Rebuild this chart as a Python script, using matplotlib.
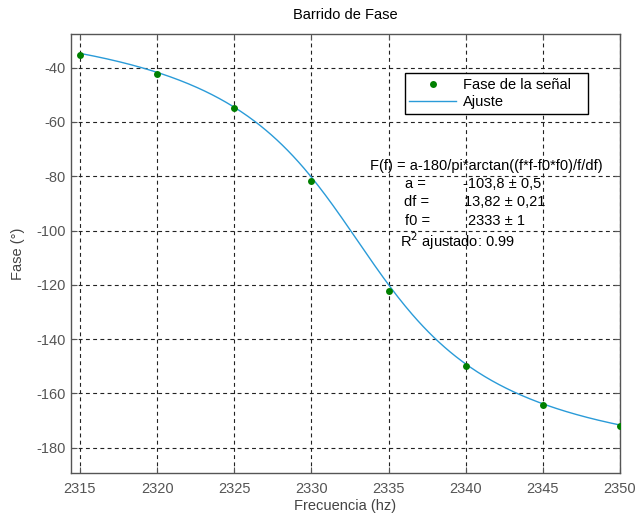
import numpy as np
import matplotlib
matplotlib.use('Agg')
import matplotlib.pyplot as plt

freq = [2315, 2320, 2325, 2330, 2335, 2340, 2345, 2350]
fase = [-35.5, -42.4, -54.8, -81.6, -122.2, -149.9, -164.4, -171.8]

# Fit parameters printed on the chart
A_FIT = -103.8
DF_FIT = 13.82
F0_FIT = 2333.0

x_ticks = [2315, 2320, 2325, 2330, 2335, 2340, 2345, 2350]
y_ticks = [-180, -160, -140, -120, -100, -80, -60, -40]

W, H = 635, 517
FS = 10.5
plt.rcParams['font.family'] = ['Liberation Sans', 'DejaVu Sans']
plt.rcParams['font.size'] = FS
plt.rcParams['axes.unicode_minus'] = False

fig = plt.figure(figsize=(W / 100.0, H / 100.0), dpi=100)
ax = fig.add_axes([71.0 / W, 1 - 472.5 / H, 549.0 / W, 438.5 / H])

# Fitted model F(f) = a - 180/pi*arctan((f*f - f0*f0)/f/df)
f_fit = np.linspace(freq[0], freq[-1], 300)
fase_fit = A_FIT - 180 / np.pi * np.arctan((f_fit * f_fit - F0_FIT * F0_FIT) / f_fit / DF_FIT)

ax.plot(freq, fase, 'o', color=(0, 0.5, 0), ms=5, mew=0,
        label='Fase de la señal', zorder=3)
ax.plot(f_fit, fase_fit, '-', color='#2a9bd8', lw=1.0, label='Ajuste', zorder=2)

ax.set_xlim(2314.42, 2350)
ax.set_ylim(-189.1, -27.6)
ax.set_xticks(x_ticks)
ax.set_yticks(y_ticks)
ax.grid(True, color='#222222', linestyle=(0, (3.5, 3)), linewidth=0.8)
ax.tick_params(direction='in', length=4, colors='#555555', labelcolor='#555555',
               labelsize=FS, top=True, right=True)
ax.tick_params(axis='x', pad=7)
ax.tick_params(axis='y', pad=4)
for s in ax.spines.values():
    s.set_color('#555555')
    s.set_linewidth(1.0)

leg_x0 = (405 - 71.0) / 549
leg_y0 = (472.5 - 118) / 438.5
leg_w = (588 - 405.0) / 549
leg_h = (118 - 69.0) / 438.5
leg = ax.legend(loc='center', bbox_to_anchor=(leg_x0, leg_y0, leg_w, leg_h),
                mode='expand', fancybox=False, framealpha=1, edgecolor='black',
                borderaxespad=0, fontsize=FS, handlelength=3.2, handletextpad=0.45,
                labelspacing=0.25, borderpad=0.3)
leg.get_frame().set_linewidth(1.0)

ax.set_title('Barrido de Fase', fontsize=FS, pad=11)
ax.set_xlabel('Frecuencia (hz)', fontsize=FS, color='#444444', labelpad=2)
fig.text(18 / W, 1 - 254 / H, 'Fase (°)', ha='center', va='center', rotation=90,
         fontsize=FS, color='#444444')

fig.text(370 / W, 1 - 166 / H, 'F(f) = a-180/pi*arctan((f*f-f0*f0)/f/df)',
         ha='left', va='center', fontsize=FS)
fig.text(405 / W, 1 - 184 / H, 'a =', ha='left', va='center', fontsize=FS)
fig.text(463 / W, 1 - 184 / H, '-103,8 ± 0,5', ha='left', va='center', fontsize=FS)
fig.text(404 / W, 1 - 202 / H, 'df =', ha='left', va='center', fontsize=FS)
fig.text(464 / W, 1 - 202 / H, '13,82 ± 0,21', ha='left', va='center', fontsize=FS)
fig.text(405 / W, 1 - 221 / H, 'f0 =', ha='left', va='center', fontsize=FS)
fig.text(468 / W, 1 - 221 / H, '2333 ± 1', ha='left', va='center', fontsize=FS)
fig.text(400 / W, 1 - 241 / H, r'R$^{2}$ ajustado: 0.99', ha='left', va='center',
         fontsize=FS)

fig.savefig('out.png', dpi=100)
